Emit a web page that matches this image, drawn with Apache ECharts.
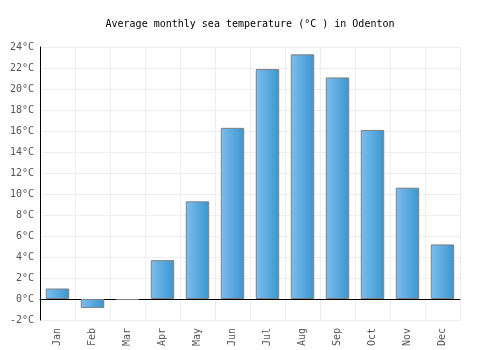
<!DOCTYPE html>
<html>
<head>
<meta charset="utf-8">
<script src="https://cdn.jsdelivr.net/npm/echarts@6/dist/echarts.min.js"></script>
<style>
  html, body { margin: 0; padding: 0; background: #fff; }
  #chart { width: 500px; height: 350px; }
</style>
</head>
<body>
<div id="chart"></div>
<script>
var months = ['Jan', 'Feb', 'Mar', 'Apr', 'May', 'Jun', 'Jul', 'Aug', 'Sep', 'Oct', 'Nov', 'Dec']
var seaTemp = [1.0, -0.85, -0.1, 3.7, 9.3, 16.3, 21.9, 23.3, 21.1, 16.1, 10.6, 5.2]
var titleText = 'Average monthly sea temperature (°C ) in Odenton'

var font = '"DejaVu Sans Mono", monospace'
var chart = echarts.init(document.getElementById('chart'))

chart.setOption({
    animation: false,
    title: {
        text: titleText,
        left: 'center',
        top: 14,
        textStyle: { fontFamily: font, fontSize: 10, fontWeight: 'normal', color: '#000' }
    },
    grid: { left: 40, right: 40, top: 47, bottom: 30 },
    xAxis: {
        type: 'category',
        data: months,
        axisLine: { onZero: true, lineStyle: { color: '#000', width: 1 } },
        axisTick: { show: false },
        axisLabel: { rotate: 90, fontFamily: font, fontSize: 10, color: '#555', margin: 8 },
        splitLine: { show: true, lineStyle: { color: '#eeeeee' } }
    },
    yAxis: {
        type: 'value',
        min: -2,
        max: 24,
        interval: 2,
        axisLine: { show: true, lineStyle: { color: '#000', width: 1 } },
        axisTick: { show: false },
        axisLabel: { formatter: '{value}°C', fontFamily: font, fontSize: 10, color: '#555', margin: 6 },
        splitLine: { lineStyle: { color: '#eeeeee' } }
    },
    series: [{
        type: 'bar',
        data: seaTemp,
        barWidth: '67%',
        itemStyle: {
            color: new echarts.graphic.LinearGradient(0, 0, 1, 0, [
                { offset: 0, color: '#7dbdee' },
                { offset: 1, color: '#3a96cf' }
            ]),
            borderColor: '#808080',
            borderWidth: 1
        }
    }]
})
</script>
</body>
</html>
